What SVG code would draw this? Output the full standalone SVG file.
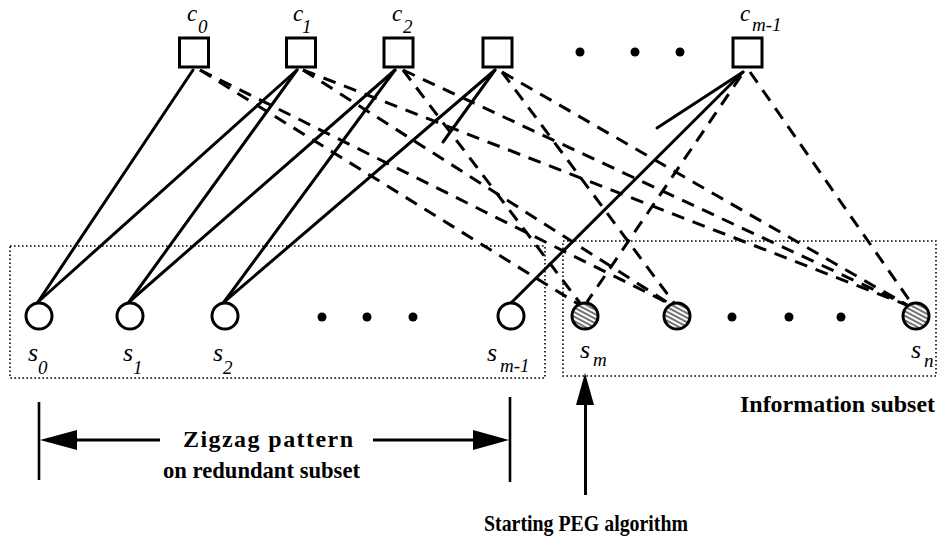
<svg xmlns="http://www.w3.org/2000/svg" width="938" height="538" viewBox="0 0 938 538">
  <defs>
    <!-- diagonal hatch used for information-bit nodes -->
    <pattern id="hatch" width="4" height="4" patternUnits="userSpaceOnUse" patternTransform="rotate(28)">
      <rect width="4" height="4" fill="#fff"/>
      <line x1="0" y1="2" x2="4" y2="2" stroke="#000" stroke-width="1.1"/>
    </pattern>
  </defs>
  <style>
    .chk{fill:#fff;stroke:#000;stroke-width:3}
    .var{fill:#fff;stroke:#000;stroke-width:3}
    .info{fill:url(#hatch);stroke:#000;stroke-width:3}
    .edge{stroke:#000;stroke-width:3;fill:none;stroke-linecap:round}
    .peg{stroke:#000;stroke-width:3;fill:none;stroke-dasharray:13 9}
    .box{fill:none;stroke:#000;stroke-width:1.6;stroke-dasharray:1.6 2.4}
    .dot{fill:#000}
    .bar{stroke:#000;stroke-width:2.6}
    .shaft{stroke:#000;stroke-width:3}
    .lbl{font-family:"Liberation Serif","Times New Roman",serif;font-style:italic;fill:#000}
    .cmain{font-size:23px}
    .smain{font-size:26px}
    .sub{font-size:19px}
    .cap{font-family:"Liberation Serif","Times New Roman",serif;font-weight:bold;font-size:24px;fill:#000}
  </style>

  <rect width="938" height="538" fill="#fff"/>

  <!-- subset frames -->
  <g id="subsets">
    <rect class="box" x="10" y="246" width="535" height="132"/>
    <rect class="box" x="563" y="241" width="373" height="135"/>
  </g>

  <!-- edges: solid = zigzag part, dashed = edges placed by PEG -->
  <g id="connectors">
    <path class="edge" d="M193 70 L38 302"/>
    <path class="edge" d="M297 70 L38 302"/>
    <path class="edge" d="M297 70 L129 302"/>
    <path class="edge" d="M395 70 L129 302"/>
    <path class="edge" d="M395 70 L224 302"/>
    <path class="edge" d="M495 70 L224 302"/>
    <path class="edge" d="M495 70 L443 142"/>
    <path class="edge" d="M743 72 L511 303"/>
    <path class="edge" d="M743 72 L657 128"/>

    <path class="peg" d="M200 70 L578 304"/>
    <path class="peg" d="M200 70 L670 304"/>
    <path class="peg" d="M303 70 L670 304"/>
    <path class="peg" d="M303 70 L907 305"/>
    <path class="peg" d="M403 70 L580 303"/>
    <path class="peg" d="M403 70 L907 305"/>
    <path class="peg" d="M502 72 L674 303"/>
    <path class="peg" d="M502 72 L907 305"/>
    <path class="peg" d="M741 76 L587 302"/>
    <path class="peg" d="M750 72 L912 304"/>
  </g>

  <!-- check nodes -->
  <g id="c0">
    <rect class="chk" x="179.5" y="38" width="29" height="29"/>
    <text class="lbl"><tspan class="cmain" x="187" y="21">c</tspan><tspan class="sub" x="198" y="33">0</tspan></text>
  </g>
  <g id="c1">
    <rect class="chk" x="286.5" y="38" width="29" height="29"/>
    <text class="lbl"><tspan class="cmain" x="293" y="21">c</tspan><tspan class="sub" x="302" y="33">1</tspan></text>
  </g>
  <g id="c2">
    <rect class="chk" x="384" y="38" width="29" height="29"/>
    <text class="lbl"><tspan class="cmain" x="392" y="21">c</tspan><tspan class="sub" x="403" y="33">2</tspan></text>
  </g>
  <g id="c3">
    <rect class="chk" x="483" y="38" width="29" height="29"/>
  </g>
  <g id="check-ellipsis">
    <circle class="dot" cx="580" cy="52" r="4.5"/>
    <circle class="dot" cx="635" cy="52" r="4.5"/>
    <circle class="dot" cx="680" cy="52" r="4.5"/>
  </g>
  <g id="cm1">
    <rect class="chk" x="733" y="38" width="29" height="29"/>
    <text class="lbl"><tspan class="cmain" x="740" y="21">c</tspan><tspan class="sub" x="752" y="31">m-1</tspan></text>
  </g>

  <!-- redundant (parity) symbol nodes -->
  <g id="s0">
    <circle class="var" cx="39" cy="316" r="13"/>
    <text class="lbl"><tspan class="smain" x="28" y="361">s</tspan><tspan class="sub" x="38" y="374">0</tspan></text>
  </g>
  <g id="s1">
    <circle class="var" cx="130" cy="316" r="13"/>
    <text class="lbl"><tspan class="smain" x="123" y="361">s</tspan><tspan class="sub" x="133" y="374">1</tspan></text>
  </g>
  <g id="s2">
    <circle class="var" cx="225" cy="316" r="13"/>
    <text class="lbl"><tspan class="smain" x="213" y="361">s</tspan><tspan class="sub" x="223" y="374">2</tspan></text>
  </g>
  <g id="redundant-ellipsis">
    <circle class="dot" cx="322" cy="317" r="4.5"/>
    <circle class="dot" cx="367" cy="317" r="4.5"/>
    <circle class="dot" cx="413" cy="317" r="4.5"/>
  </g>
  <g id="sm1">
    <circle class="var" cx="511" cy="316" r="13"/>
    <text class="lbl"><tspan class="smain" x="487" y="361">s</tspan><tspan class="sub" x="500" y="372">m-1</tspan></text>
  </g>

  <!-- information symbol nodes -->
  <g id="sm">
    <circle class="info" cx="585" cy="316" r="13"/>
    <text class="lbl"><tspan class="smain" x="580" y="358">s</tspan><tspan class="sub" x="593" y="366">m</tspan></text>
  </g>
  <g id="sm_plus1">
    <circle class="info" cx="677" cy="316" r="13"/>
  </g>
  <g id="info-ellipsis">
    <circle class="dot" cx="732" cy="317" r="4.5"/>
    <circle class="dot" cx="789" cy="317" r="4.5"/>
    <circle class="dot" cx="841" cy="317" r="4.5"/>
  </g>
  <g id="sn">
    <circle class="info" cx="916" cy="316" r="13"/>
    <text class="lbl"><tspan class="smain" x="911" y="358">s</tspan><tspan class="sub" x="924" y="367">n</tspan></text>
  </g>

  <!-- annotations -->
  <g id="zigzag-span">
    <line class="bar" x1="39" y1="402" x2="39" y2="480"/>
    <line class="bar" x1="510" y1="397" x2="510" y2="482"/>
    <polygon points="40,440 77,430 77,450" fill="#000"/>
    <line class="shaft" x1="76" y1="440" x2="160" y2="440"/>
    <polygon points="509,440 473,430 473,450" fill="#000"/>
    <line class="shaft" x1="373" y1="440" x2="474" y2="440"/>
    <text class="cap" x="183" y="447" textLength="170" lengthAdjust="spacing">Zigzag pattern</text>
    <text class="cap" x="163" y="478" textLength="197" lengthAdjust="spacingAndGlyphs">on redundant subset</text>
  </g>
  <g id="info-caption">
    <text class="cap" x="740" y="412" textLength="195" lengthAdjust="spacingAndGlyphs">Information subset</text>
  </g>
  <g id="peg-start">
    <polygon points="585,373 576,405 594,405" fill="#000"/>
    <line class="shaft" x1="585.5" y1="404" x2="585.5" y2="495"/>
    <text class="cap" x="484" y="531" textLength="204" lengthAdjust="spacingAndGlyphs">Starting PEG algorithm</text>
  </g>
</svg>
